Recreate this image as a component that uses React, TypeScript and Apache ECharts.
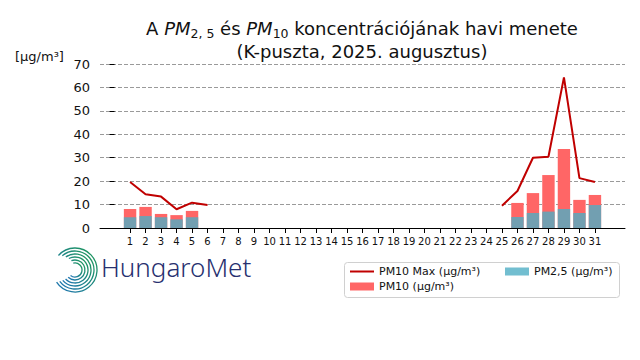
import React, { useEffect, useRef } from "react";
import * as echarts from "echarts";

const days = Array.from({ length: 31 }, (_, i) => i + 1);
const N = null;
const pm10Max = [19.6, 14.4, 13.4, 8.0, 10.8, 9.8, N, N, N, N, N, N, N, N, N, N, N, N, N, N, N, N, N, N, 9.5, 15.8, 30.0, 30.4, 64.3, 21.3, 19.6];
const pm10 = [8.1, 9.0, 6.0, 5.5, 7.3, N, N, N, N, N, N, N, N, N, N, N, N, N, N, N, N, N, N, N, N, 10.7, 14.9, 22.6, 33.7, 12.0, 14.1];
const pm25 = [4.6, 5.1, 4.6, 3.7, 4.6, N, N, N, N, N, N, N, N, N, N, N, N, N, N, N, N, N, N, N, N, 4.7, 6.4, 7.0, 8.1, 6.4, 9.8];
const yTicks = [0, 10, 20, 30, 40, 50, 60, 70];

const FONT = "DejaVu Sans";

export default function App() {
  const ref = useRef<HTMLDivElement>(null);
  useEffect(() => {
    const chart = echarts.init(ref.current!, null, { renderer: "svg" });
    const pair = (arr: (number | null)[]) => days.map((d, i) => [d, arr[i] === null ? "-" : arr[i]]);
    const rings = [7, 10, 13, 16, 19, 22];
    const ringEls = rings.map((r, k) => ({
      type: "arc",
      shape: { cx: 75, cy: 270, r, startAngle: -Math.PI / 2 - 0.25 - k * 0.12, endAngle: Math.PI * 0.72 + k * 0.06, clockwise: true },
      style: {
        fill: "none",
        lineWidth: 1.3,
        stroke: new echarts.graphic.LinearGradient(1, 0, 0, 1, [
          { offset: 0, color: "#1f9a55" },
          { offset: 1, color: "#1f74b5" },
        ]),
      },
    }));
    chart.setOption({
      animation: false,
      textStyle: { fontFamily: FONT },
      title: {
        left: 362,
        top: 17,
        padding: 0,
        textAlign: "center",
        text: "{n|A }{i|PM}{s|2, 5}{n| és }{i|PM}{s|10}{n| koncentrációjának havi menete}\n{n|(K-puszta, 2025. augusztus)}",
        textStyle: {
          fontWeight: "normal",
          rich: {
            n: { fontSize: 18, lineHeight: 23, fontFamily: FONT, fontWeight: "normal", color: "#111" },
            i: { fontSize: 18, lineHeight: 23, fontFamily: FONT, fontWeight: "normal", fontStyle: "italic", color: "#111" },
            s: { fontSize: 12.5, lineHeight: 12, verticalAlign: "bottom", fontFamily: FONT, fontWeight: "normal", color: "#111" },
          },
        },
      },
      grid: { left: 100, right: 15, top: 64, bottom: 132, containLabel: false },
      xAxis: {
        type: "value",
        min: -0.94,
        max: 32.94,
        splitLine: { show: false },
        axisLine: { show: true, onZero: false, lineStyle: { color: "#000", width: 1 } },
        axisTick: { show: true, length: 5, customValues: days, lineStyle: { color: "#000" } },
        axisLabel: { customValues: days, fontSize: 10, color: "#111", margin: 8, fontFamily: FONT },
      },
      yAxis: {
        type: "value",
        min: 0,
        max: 70,
        interval: 10,
        axisLine: { show: false },
        axisTick: { show: true, length: 5, lineStyle: { color: "#000" } },
        axisLabel: { fontSize: 13, color: "#111", margin: 10, fontFamily: FONT, formatter: (v: number) => (yTicks.includes(v) ? String(v) : "") },
        splitLine: { show: true, lineStyle: { color: "#808080", type: [4, 2], width: 0.8 } },
      },
      legend: [
        {
          orient: "vertical",
          left: 349,
          top: 266,
          padding: 0,
          itemWidth: 24,
          itemHeight: 8,
          itemGap: 4,
          textStyle: { fontSize: 11, color: "#111", fontFamily: FONT },
          data: [
            { name: "PM10 Max (µg/m³)", itemStyle: { opacity: 0 } },
            { name: "PM10 (µg/m³)", icon: "rect" },
          ],
        },
        {
          orient: "vertical",
          left: 505,
          top: 266,
          padding: 0,
          itemWidth: 24,
          itemHeight: 8,
          textStyle: { fontSize: 11, color: "#111", fontFamily: FONT },
          data: [{ name: "PM2,5 (µg/m³)", icon: "rect" }],
        },
      ],
      graphic: [
        {
          type: "rect",
          z: -1,
          shape: { x: 344.5, y: 262.5, width: 275, height: 35, r: 3 },
          style: { fill: "#fff", stroke: "#d0d0d0", lineWidth: 1 },
        },
        {
          type: "text",
          left: 15,
          top: 50,
          style: { text: "[µg/m³]", fontSize: 13, fontFamily: FONT, fill: "#111" },
        },
        {
          type: "text",
          left: 101,
          top: 254,
          style: { text: "HungaroMet", fontSize: 26, fontFamily: "Noto Sans", fontWeight: 300, fill: "#27306f" },
        },
        ...ringEls,
      ],
      series: [
        {
          name: "PM10 (µg/m³)",
          type: "bar",
          data: pair(pm10),
          barWidth: 12.4,
          barGap: "-100%",
          itemStyle: { color: "#ff6666" },
        },
        {
          name: "PM2,5 (µg/m³)",
          type: "bar",
          data: pair(pm25),
          barWidth: 12.4,
          barGap: "-100%",
          itemStyle: { color: "rgb(79,174,196)", opacity: 0.8 },
        },
        {
          name: "PM10 Max (µg/m³)",
          type: "line",
          data: pair(pm10Max),
          symbol: "none",
          connectNulls: false,
          lineStyle: { color: "#c00000", width: 2 },
          itemStyle: { color: "#c00000" },
          z: 5,
        },
      ],
    });
    return () => chart.dispose();
  }, []);
  return <div ref={ref} style={{ position: "absolute", left: 0, top: 0, width: 640, height: 360 }} />;
}
